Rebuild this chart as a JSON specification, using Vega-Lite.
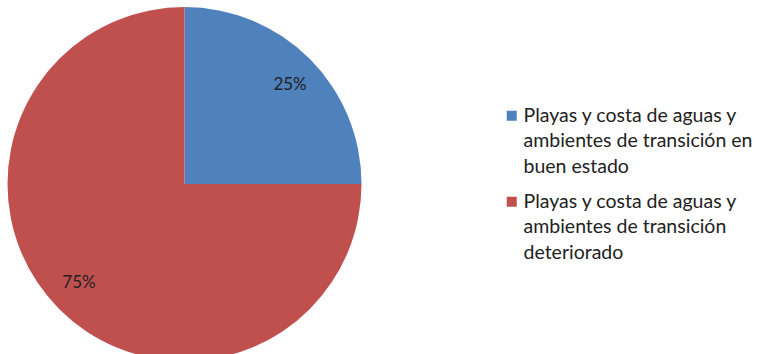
{
  "$schema": "https://vega.github.io/schema/vega-lite/v6.json",
  "width": 369,
  "height": 368,
  "padding": 0,
  "background": "white",
  "config": {"view": {"stroke": null}},
  "data": {
    "values": [
      {"estado": "Playas y costa de aguas y ambientes de transición en buen estado", "pct": 25, "label": "25%", "orden": 1},
      {"estado": "Playas y costa de aguas y ambientes de transición deteriorado", "pct": 75, "label": "75%", "orden": 2}
    ]
  },
  "encoding": {
    "theta": {"field": "pct", "type": "quantitative", "stack": true},
    "order": {"field": "orden", "type": "quantitative"},
    "color": {
      "field": "estado",
      "type": "nominal",
      "sort": ["Playas y costa de aguas y ambientes de transición en buen estado", "Playas y costa de aguas y ambientes de transición deteriorado"],
      "scale": {"range": ["#4F81BD", "#C0504D"]},
      "legend": {
        "title": null,
        "orient": "right",
        "offset": 27,
        "padding": 106,
        "symbolType": "square",
        "symbolSize": 100,
        "symbolStrokeWidth": 0,
        "labelFont": "Lato",
        "labelFontSize": 19.5,
        "labelColor": "#222222",
        "labelLimit": 400,
        "labelOffset": 2,
        "labelBaseline": "alphabetic",
        "rowPadding": 14,
        "encode": {"labels": {"update": {"lineHeight": {"value": 25.5}, "dy": {"value": 6}}}},
        "labelExpr": "datum.label == 'Playas y costa de aguas y ambientes de transición en buen estado' ? ['Playas y costa de aguas y', 'ambientes de transición en', 'buen estado'] : ['Playas y costa de aguas y', 'ambientes de transición', 'deteriorado']"
      }
    }
  },
  "layer": [
    {"mark": {"type": "arc", "outerRadius": 177, "strokeWidth": 0}},
    {
      "mark": {"type": "text", "radius": 145, "thetaOffset": 0.03, "theta2Offset": 0.03, "font": "Lato", "fontSize": 17, "color": "#222222"},
      "encoding": {"text": {"field": "label"}, "color": {"value": "#222222"}}
    }
  ]
}
